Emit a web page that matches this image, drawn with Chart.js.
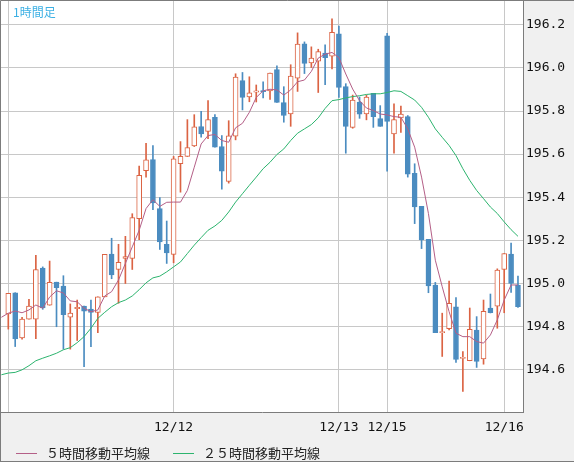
<!DOCTYPE html>
<html>
<head>
<meta charset="utf-8">
<script src="https://cdn.jsdelivr.net/npm/chart.js@4/dist/chart.umd.min.js"></script>
<style>
  body { margin: 0; background: #fff; }
  #wrap { position: relative; width: 574px; height: 462px; background: #f0f0f0; }
  #c { position: absolute; left: 0; top: 0; }
  .title { position: absolute; left: 13px; top: 3px; font: 12px "Noto Sans CJK JP", sans-serif; color: #3cb0e4; }
  .lg { position: absolute; top: 446px; font: 13px "Noto Sans CJK JP", sans-serif; color: #222; line-height: 14px; }
  .sw { position: absolute; top: 453px; width: 21px; height: 1px; }
</style>
</head>
<body>
<div id="wrap">
  <canvas id="c" width="574" height="462"></canvas>
  <div class="title">1時間足</div>
  <div class="sw" style="left:16px;background:#b45f87"></div>
  <div class="lg" style="left:46px">５時間移動平均線</div>
  <div class="sw" style="left:173px;background:#2cb46e"></div>
  <div class="lg" style="left:203px">２５時間移動平均線</div>
</div>
<script>
// ---- data (1 candle per hour) ----
const opens = [194.857,194.956,194.746,194.833,194.833,195.070,194.898,195.005,194.987,194.842,
  194.882,194.894,194.880,194.865,194.937,195.135,195.064,195.115,195.115,195.300,
  195.523,195.575,195.347,195.181,195.134,195.555,195.589,195.638,195.728,195.705,
  195.771,195.635,195.473,195.683,195.941,195.865,195.888,195.894,195.893,195.992,
  195.839,195.786,195.953,196.112,196.023,196.032,196.069,196.055,196.158,195.913,
  195.724,195.842,195.786,195.882,195.765,196.149,195.694,195.768,195.774,195.510,
  195.357,195.204,194.992,194.771,194.789,194.890,194.651,194.640,194.783,194.648,
  194.885,194.894,195.064,195.135,194.992];
const highs = [194.953,194.956,194.842,194.925,195.130,195.076,195.103,195.005,195.035,194.904,
  194.922,194.894,194.922,194.937,195.134,195.209,195.181,195.218,195.323,195.544,
  195.650,195.640,195.398,195.289,195.589,195.658,195.760,195.783,195.798,195.849,
  195.783,195.686,195.755,195.973,195.979,195.959,195.921,195.936,195.976,196.010,
  195.913,196.015,196.163,196.121,196.098,196.087,196.107,196.228,196.195,195.927,
  195.874,195.865,195.874,195.882,195.825,196.161,195.833,195.823,195.779,195.555,
  195.357,195.204,195.004,194.861,195.010,194.933,194.683,194.885,194.845,194.922,
  194.950,195.067,195.138,195.187,195.033];
const lows = [194.787,194.706,194.740,194.833,194.743,194.879,194.898,194.798,194.694,194.694,
  194.734,194.613,194.706,194.771,194.937,195.021,194.907,194.999,195.064,195.203,
  195.493,195.342,195.157,195.092,195.095,195.423,195.589,195.635,195.678,195.672,
  195.632,195.437,195.465,195.666,195.805,195.843,195.842,195.861,195.854,195.840,
  195.748,195.729,195.891,195.974,196.002,195.886,195.922,195.996,195.863,195.604,
  195.720,195.766,195.759,195.724,195.729,195.521,195.604,195.701,195.493,195.277,
  195.161,194.956,194.771,194.660,194.783,194.632,194.498,194.640,194.609,194.624,
  194.862,194.791,194.863,194.958,194.888];
const closes = [194.953,194.742,194.834,194.894,195.064,194.886,195.004,194.979,194.854,194.861,
  194.888,194.870,194.865,194.937,195.134,195.039,195.097,195.124,195.305,195.501,
  195.573,195.373,195.192,195.141,195.578,195.589,195.630,195.726,195.694,195.760,
  195.632,195.521,195.685,195.958,195.863,195.884,195.894,195.890,195.976,195.840,
  195.779,195.962,196.111,196.021,196.046,196.076,196.048,196.166,195.910,195.729,
  195.851,195.785,195.865,195.774,195.729,195.752,195.760,195.786,195.507,195.354,
  195.201,194.988,194.771,194.775,194.907,194.646,194.654,194.786,194.637,194.870,
  194.863,195.061,195.138,194.999,194.891];

// moving averages, first value is the hour before the first candle
const ma5 = [194.842,
  194.861,194.871,194.863,194.876,194.899,194.884,194.936,194.965,194.955,194.918,
  194.914,194.884,194.868,194.876,194.941,194.961,195.015,195.092,195.169,195.246,
  195.347,195.388,195.357,195.376,195.377,195.377,195.431,195.539,195.647,195.686,
  195.691,195.663,195.655,195.722,195.743,195.794,195.863,195.894,195.901,195.898,
  195.874,195.898,195.936,195.944,195.984,196.046,196.064,196.072,196.048,195.972,
  195.902,195.848,195.814,195.802,195.786,195.782,195.774,195.771,195.717,195.632,
  195.493,195.324,195.107,194.984,194.868,194.768,194.752,194.752,194.729,194.722,
  194.760,194.830,194.922,194.992,194.992];
const ma25 = [194.575,
  194.583,194.586,194.598,194.617,194.640,194.652,194.663,194.675,194.691,194.701,
  194.724,194.752,194.791,194.837,194.865,194.891,194.910,194.922,194.941,194.970,
  195.002,195.025,195.033,195.053,195.076,195.099,195.138,195.177,195.212,195.246,
  195.266,195.292,195.331,195.377,195.416,195.455,195.493,195.532,195.562,195.598,
  195.624,195.663,195.697,195.717,195.737,195.768,195.812,195.848,195.853,195.861,
  195.867,195.871,195.877,195.880,195.880,195.886,195.894,195.891,195.871,195.851,
  195.817,195.771,195.717,195.678,195.640,195.593,195.532,195.478,195.431,195.393,
  195.354,195.324,195.285,195.249,195.218];

const xTickIndex = [0, 24, 48, 55, 72];
const xTickLabels = ['', '12/12', '12/13', '12/15', '12/16'];
const yTicks = [194.6, 194.8, 195.0, 195.2, 195.4, 195.6, 195.8, 196.0, 196.2];

const UP = '#db6343', DOWN = '#4b8cc0';
const isUp = closes.map((c, i) => c >= opens[i]);
const candleColor = isUp.map(u => u ? UP : DOWN);

const bodies = opens.map((o, i) => ({ x: i, y: [o, closes[i]] }));
const wicks = lows.map((l, i) => ({ x: i, y: [l, highs[i]] }));
const ma5Pts = ma5.map((v, i) => ({ x: i - 1, y: v }));
const ma25Pts = ma25.map((v, i) => ({ x: i - 1, y: v }));

const frame = {
  id: 'frame',
  beforeDraw(chart) {
    const { ctx, chartArea: a } = chart;
    ctx.save();
    ctx.fillStyle = '#f0f0f0';
    ctx.fillRect(0, 0, chart.width, chart.height);
    ctx.fillStyle = '#ffffff';
    ctx.fillRect(a.left, a.top, a.right - a.left, a.bottom - a.top);
    ctx.restore();
  },
  afterDraw(chart) {
    const ctx = chart.ctx;
    ctx.save();
    ctx.strokeStyle = '#7c7c7c';
    ctx.lineWidth = 1;
    ctx.beginPath();
    ctx.moveTo(0.5, chart.height);
    ctx.lineTo(0.5, 0.5);
    ctx.lineTo(chart.width, 0.5);
    ctx.moveTo(0, chart.height - 0.5);
    ctx.lineTo(chart.width, chart.height - 0.5);
    ctx.stroke();
    ctx.restore();
  }
};

const monoFont = { family: '"DejaVu Sans Mono", monospace', size: 13 };
const noPad = s => { s.paddingTop = 0; s.paddingBottom = 0; s.paddingLeft = 0; s.paddingRight = 0; };

new Chart(document.getElementById('c'), {
  type: 'bar',
  data: {
    datasets: [
      { type: 'line', data: ma5Pts, borderColor: '#b45f87', borderWidth: 1, pointRadius: 0, order: 0 },
      { type: 'line', data: ma25Pts, borderColor: '#2cb46e', borderWidth: 1, pointRadius: 0, order: 0 },
      { data: bodies, grouped: false, barThickness: 5, minBarLength: 1,
        backgroundColor: isUp.map(u => u ? '#ffffff' : DOWN),
        borderColor: candleColor, borderWidth: 1, borderSkipped: false, order: 1 },
      { data: wicks, grouped: false, barThickness: 1,
        backgroundColor: candleColor, borderWidth: 0, order: 2 }
    ]
  },
  options: {
    responsive: false,
    animation: false,
    devicePixelRatio: 1,
    layout: { padding: { left: 1, top: 1, right: 0, bottom: 0 } },
    plugins: { legend: { display: false }, tooltip: { enabled: false } },
    scales: {
      x: {
        type: 'linear', offset: false, min: -1.06, max: 74.73,
        afterBuildTicks: s => { s.ticks = xTickIndex.map(v => ({ value: v })); },
        afterFit: s => { s.height = 50; noPad(s); },
        grid: { color: '#c8c8c8', drawTicks: false, offset: false },
        border: { color: '#7c7c7c' },
        ticks: {
          autoSkip: false, maxRotation: 0, padding: 8, color: '#111', font: monoFont,
          callback: v => xTickLabels[xTickIndex.indexOf(v)]
        }
      },
      y: {
        position: 'right', min: 194.402, max: 196.311,
        afterBuildTicks: s => { s.ticks = yTicks.map(v => ({ value: v })); },
        afterFit: s => { s.width = 51; noPad(s); },
        grid: { color: '#c8c8c8', drawTicks: false },
        border: { color: '#7c7c7c' },
        ticks: { padding: 3, color: '#111', font: monoFont, callback: v => v.toFixed(1) }
      }
    }
  },
  plugins: [frame]
});
</script>
</body>
</html>
